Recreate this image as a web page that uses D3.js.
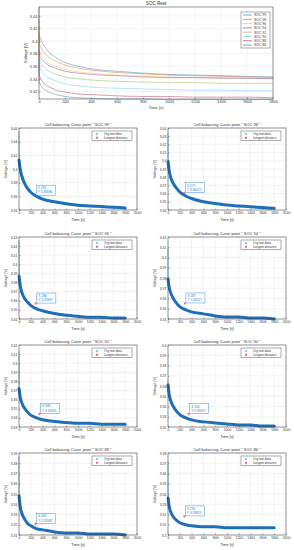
<!DOCTYPE html>
<html>
<head>
<meta charset="utf-8">
<script src="https://cdn.jsdelivr.net/npm/d3@7"></script>
<style>
body { margin: 0; background: #fff; }
svg { display: block; font-family: "Liberation Sans", Arial, sans-serif; }
</style>
</head>
<body>
<svg id="chart"></svg>
<script>
// sample times of the rest curves [s]
var times = [0, 1, 20, 50, 100, 150, 200, 300, 400, 600, 800, 1000, 1200, 1400, 1600, 1800];

var socNames = ["SOC 99", "SOC 98", "SOC 96", "SOC 94", "SOC 92", "SOC 90", "SOC 88", "SOC 86"];

// voltage [V] at each sample time
var soc99 = [3.455, 3.413, 3.400, 3.389, 3.378, 3.371, 3.366, 3.360, 3.356, 3.352, 3.349, 3.347, 3.346, 3.345, 3.344, 3.343];
var soc98 = [3.434, 3.399, 3.388, 3.379, 3.371, 3.366, 3.362, 3.357, 3.354, 3.350, 3.348, 3.346, 3.345, 3.344, 3.343, 3.342];
var soc96 = [3.426, 3.387, 3.377, 3.369, 3.362, 3.358, 3.355, 3.351, 3.349, 3.346, 3.344, 3.343, 3.342, 3.342, 3.341, 3.341];
var soc94 = [3.409, 3.379, 3.371, 3.365, 3.359, 3.355, 3.352, 3.349, 3.347, 3.345, 3.343, 3.342, 3.342, 3.341, 3.341, 3.340];
var soc92 = [3.413, 3.372, 3.363, 3.356, 3.350, 3.346, 3.343, 3.340, 3.338, 3.336, 3.335, 3.334, 3.334, 3.333, 3.333, 3.333];
var soc90 = [3.366, 3.361, 3.352, 3.345, 3.339, 3.335, 3.332, 3.329, 3.327, 3.325, 3.324, 3.323, 3.322, 3.322, 3.321, 3.321];
var soc88 = [3.386, 3.348, 3.338, 3.331, 3.325, 3.321, 3.319, 3.316, 3.315, 3.313, 3.312, 3.312, 3.311, 3.311, 3.311, 3.310];
var soc86 = [3.372, 3.336, 3.328, 3.322, 3.317, 3.314, 3.312, 3.310, 3.309, 3.308, 3.308, 3.307, 3.307, 3.307, 3.307, 3.307];
var seriesValues = [soc99, soc98, soc96, soc94, soc92, soc90, soc88, soc86];

var seriesColors = ["#0072bd", "#d95319", "#edb120", "#7e2f8e", "#77ac30", "#4dbeee", "#a2142f", "#0072bd"];

// data tips (longest distance point)
var tipX = [276, 277, 286, 287, 348, 350, 281, 276];
var tipY = [3.36096, 3.36072, 3.35697, 3.35517, 3.34431, 3.33257, 3.32087, 3.31815];

// axes
var restTicksX = [0, 200, 400, 600, 800, 1000, 1200, 1400, 1600, 1800];
var restTicksY = [3.32, 3.34, 3.36, 3.38, 3.4, 3.42, 3.44];
var subTicksX = [0, 200, 400, 600, 800, 1000, 1200, 1400, 1600, 1800, 2000];
var subDomains = [[3.34, 3.46], [3.34, 3.44], [3.34, 3.43], [3.34, 3.42], [3.33, 3.42], [3.32, 3.40], [3.31, 3.39], [3.30, 3.38]];
var subSteps = [0.02, 0.01, 0.01, 0.01, 0.01, 0.01, 0.01, 0.01];

var svg = d3.select("#chart").attr("width", 294).attr("height", 550);
var ink = "#333";
var fmt = function(d) { return String(+d.toFixed(2)); };

function grid(g, x, y, w, h, xt, yt) {
	g.append("rect").attr("width", w).attr("height", h).attr("fill", "#fff");
	g.append("g").selectAll("line").data(xt).enter().append("line")
		.attr("x1", function(d) { return x(d); }).attr("x2", function(d) { return x(d); })
		.attr("y1", 0).attr("y2", h)
		.attr("stroke", "#e4e4e4").attr("stroke-width", 0.4);
	g.append("g").selectAll("line").data(yt).enter().append("line")
		.attr("y1", function(d) { return y(d); }).attr("y2", function(d) { return y(d); })
		.attr("x1", 0).attr("x2", w)
		.attr("stroke", "#e4e4e4").attr("stroke-width", 0.4);
}

function axes(g, x, y, w, h, xt, yt, fs) {
	var gx = g.append("g").attr("transform", "translate(0," + h + ")")
		.call(d3.axisBottom(x).tickValues(xt).tickSize(-1.5).tickPadding(1.6).tickFormat(d3.format("d")));
	var gy = g.append("g")
		.call(d3.axisLeft(y).tickValues(yt).tickSize(-1.5).tickPadding(1.6).tickFormat(fmt));
	[gx, gy].forEach(function(a) {
		a.attr("font-family", null);
		a.select(".domain").remove();
		a.selectAll("line").attr("stroke", ink).attr("stroke-width", 0.4);
		a.selectAll("text").attr("font-size", fs).attr("fill", ink);
	});
	g.append("rect").attr("width", w).attr("height", h)
		.attr("fill", "none").attr("stroke", ink).attr("stroke-width", 0.5);
}

// ---------- top chart: SOC Rest ----------
var topL = 39, topT = 7, topW = 234, topH = 92;
var tx = d3.scaleLinear().domain([0, 1800]).range([0, topW]);
var ty = d3.scaleLinear().domain([3.308, 3.454]).range([topH, 0]);
var gTop = svg.append("g").attr("transform", "translate(" + topL + "," + topT + ")");
grid(gTop, tx, ty, topW, topH, restTicksX, restTicksY);

var restLine = d3.line()
	.x(function(d, i) { return tx(times[i]); })
	.y(function(d) { return ty(d); })
	.curve(d3.curveMonotoneX);

gTop.append("g").selectAll("path").data(seriesValues).enter().append("path")
	.attr("d", restLine)
	.attr("fill", "none")
	.attr("stroke", function(d, i) { return seriesColors[i]; })
	.attr("stroke-width", 0.55)
	.attr("stroke-opacity", 0.75);

axes(gTop, tx, ty, topW, topH, restTicksX, restTicksY, 4);

gTop.append("text").attr("x", topW / 2).attr("y", -2).attr("text-anchor", "middle")
	.attr("font-size", 4.6).attr("fill", ink).text("SOC Rest");
gTop.append("text").attr("x", topW / 2).attr("y", topH + 10).attr("text-anchor", "middle")
	.attr("font-size", 4.2).attr("fill", ink).text("Time [s]");
gTop.append("text").attr("transform", "translate(-12," + (topH / 2) + ") rotate(-90)")
	.attr("text-anchor", "middle").attr("font-size", 4.2).attr("fill", ink).text("Voltage [V]");

// legend
var leg = gTop.append("g").attr("transform", "translate(" + (topW - 32) + ",5)");
leg.append("rect").attr("width", 29).attr("height", 36)
	.attr("fill", "#fff").attr("stroke", ink).attr("stroke-width", 0.4);
var legItem = leg.selectAll("g.it").data(socNames).enter().append("g").attr("class", "it")
	.attr("transform", function(d, i) { return "translate(0," + (3 + i * 4.3) + ")"; });
legItem.append("line").attr("x1", 2).attr("x2", 11).attr("y1", 0).attr("y2", 0)
	.attr("stroke", function(d, i) { return seriesColors[i]; }).attr("stroke-width", 0.6);
legItem.append("text").attr("x", 13).attr("y", 1.3).attr("font-size", 3.4).attr("fill", ink)
	.text(function(d) { return d; });

// ---------- 8 subplots ----------
var colL = [19, 168], rowT = [128, 237, 345, 453];
var subW = 118, subH = 82;

seriesValues.forEach(function(vals, k) {
	var col = k % 2, row = Math.floor(k / 2);
	var g = svg.append("g").attr("transform", "translate(" + colL[col] + "," + rowT[row] + ")");
	var x = d3.scaleLinear().domain([0, 2000]).range([0, subW]);
	var dom = subDomains[k];
	var y = d3.scaleLinear().domain(dom).range([subH, 0]);
	var yt = d3.range(dom[0], dom[1] + 1e-6, subSteps[k]);
	grid(g, x, y, subW, subH, subTicksX, yt);

	// longest distance point (sits under the dense test data)
	var px = x(tipX[k]), py = y(tipY[k]);
	g.append("path").attr("d", d3.symbol(d3.symbolAsterisk, 6)())
		.attr("transform", "translate(" + px + "," + py + ")")
		.attr("fill", "none").attr("stroke", "#e0201b").attr("stroke-width", 0.4);

	// first jump from the rest start value
	g.append("path").attr("d", d3.line()
			.x(function(d, i) { return x(times[i]); })
			.y(function(d) { return y(d); })(vals.slice(0, 2)))
		.attr("fill", "none").attr("stroke", "#6fb6e6").attr("stroke-width", 0.8);
	var times1 = times.slice(1);
	g.append("path").attr("d", d3.line()
			.x(function(d, i) { return x(times1[i]); })
			.y(function(d) { return y(d); })
			.curve(d3.curveMonotoneX)(vals.slice(1)))
		.attr("fill", "none").attr("stroke", "#1f6fb8").attr("stroke-width", 3)
		.attr("stroke-linecap", "round");

	axes(g, x, y, subW, subH, subTicksX, yt, 3.4);

	g.append("text").attr("x", subW / 2).attr("y", -2.5).attr("text-anchor", "middle")
		.attr("font-size", 4).attr("fill", ink)
		.text("Cell balancing Curve point \" " + socNames[k] + " \"");
	g.append("text").attr("x", subW / 2).attr("y", subH + 11).attr("text-anchor", "middle")
		.attr("font-size", 3.8).attr("fill", ink).text("Time [s]");
	g.append("text").attr("transform", "translate(-12.5," + (subH / 2) + ") rotate(-90)")
		.attr("text-anchor", "middle").attr("font-size", 3.8).attr("fill", ink).text("Voltage [V]");

	// data tip box
	var tip = g.append("g").attr("transform", "translate(" + (px + 1) + "," + (py - 10.5) + ")");
	tip.append("rect").attr("width", 19).attr("height", 10)
		.attr("fill", "#fff").attr("stroke", "#3a8ee6").attr("stroke-width", 0.5);
	tip.append("text").attr("x", 1.5).attr("y", 4).attr("font-size", 3.2).attr("fill", "#1e78d6")
		.text("X " + tipX[k]);
	tip.append("text").attr("x", 1.5).attr("y", 8.3).attr("font-size", 3.2).attr("fill", "#1e78d6")
		.text("Y " + tipY[k].toFixed(5));

	// legend
	var lg = g.append("g").attr("transform", "translate(" + (subW - 45) + ",3)");
	lg.append("rect").attr("width", 40).attr("height", 9.5)
		.attr("fill", "#fff").attr("stroke", ink).attr("stroke-width", 0.4);
	lg.append("path").attr("d", d3.symbol(d3.symbolCross, 3)())
		.attr("transform", "translate(5,3)").attr("fill", "#4dbeee");
	lg.append("text").attr("x", 12).attr("y", 4.1).attr("font-size", 3.1).attr("fill", ink).text("Org test data");
	lg.append("path").attr("d", d3.symbol(d3.symbolAsterisk, 5)())
		.attr("transform", "translate(5,6.8)").attr("fill", "none").attr("stroke", "#e0201b").attr("stroke-width", 0.5);
	lg.append("text").attr("x", 12).attr("y", 7.9).attr("font-size", 3.1).attr("fill", ink).text("Longest distance");
});
</script>
</body>
</html>
